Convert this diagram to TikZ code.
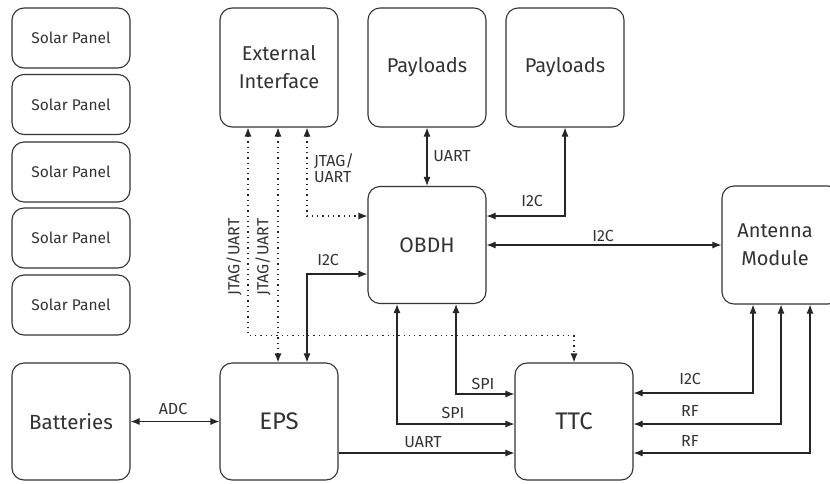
\documentclass[tikz,border=0pt]{standalone}
\usepackage{fontspec}
\setmainfont{Fira Sans}
\usetikzlibrary{arrows.meta}
\begin{document}
\begin{tikzpicture}[x=1pt,y=-1pt,
  box/.style={draw=black!80, line width=1.1pt, rounded corners=12pt, minimum width=118pt, inner sep=2pt, align=center, text=black!80},
  conn/.style={line width=1.1pt, draw=black!85, {Latex[length=9pt,width=7pt]}-{Latex[length=9pt,width=7pt]}},
  conn1/.style={line width=1.1pt, draw=black!85, -{Latex[length=9pt,width=7pt]}},
  dotconn/.style={conn, dash pattern=on 1.3pt off 4pt},
  lbl/.style={font=\fontsize{16}{17}\selectfont, text=black!80, inner sep=0pt}]
\path[use as bounding box] (0,0) rectangle (830,483);
\clip (0,0) rectangle (830,483);
% solar panels
\foreach \n/\y in {1/38,2/104.5,3/172,4/238,5/305}
  \node[box, minimum height=60pt, font=\fontsize{15.5}{17}\selectfont] (sp\n) at (71,\y) {Solar Panel};
\node[box, minimum height=117pt, font=\fontsize{20.5}{24}\selectfont] (bat) at (71,421.5) {Batteries};
\node[box, minimum height=117pt, font=\fontsize{24}{28}\selectfont] (eps) at (279,421.5) {EPS};
\node[box, minimum height=119pt, font=\fontsize{20}{28}\selectfont] (ext) at (279,67.5) {External\\Interface};
\node[box, minimum height=119pt, font=\fontsize{20}{24}\selectfont] (pay1) at (427,67.5) {\raisebox{3pt}{Payloads}};
\node[box, minimum height=119pt, font=\fontsize{20}{24}\selectfont] (pay2) at (565,67.5) {\raisebox{3pt}{Payloads}};
\node[box, minimum height=117pt, font=\fontsize{21}{24}\selectfont] (obdh) at (427,245) {OBDH};
\node[box, minimum height=117pt, font=\fontsize{24}{28}\selectfont] (ttc) at (574,421.5) {TTC};
\node[box, minimum height=118pt, font=\fontsize{20}{28}\selectfont] (ant) at (781,245) {\hspace*{-12pt}Antenna\\\hspace*{-12pt}Module};
% dotted JTAG/UART
\draw[dotconn] ([xshift=-31pt]ext.south) -- ++(0,208) -| (ttc.north);
\draw[dotconn] ([xshift=-1pt]ext.south) -- ([xshift=-1pt]eps.north);
\draw[dotconn] ([xshift=28pt]ext.south) |- ([yshift=29pt]obdh.west);
% I2C EPS-OBDH
\draw[conn] ([xshift=28pt]eps.north) |- ([yshift=-29pt]obdh.west);
% payloads
\draw[conn] (pay1.south) -- (obdh.north);
\draw[conn] (pay2.south) |- ([yshift=29pt]obdh.east);
\draw[conn] (obdh.east) -- (ant.west);
% SPI
\draw[conn] ([xshift=-30pt]obdh.south) |- ([yshift=-2.5pt]ttc.west);
\draw[conn] ([xshift=29pt]obdh.south) |- ([yshift=27.5pt]ttc.west);
% UART EPS-TTC
\draw[conn1] ([yshift=-31.5pt]eps.east) -- ([yshift=-31.5pt]ttc.west);
% antenna - TTC
\draw[conn] ([xshift=-28pt]ant.south) |- ([yshift=28.5pt]ttc.east);
\draw[conn] (ant.south) |- ([yshift=-2.5pt]ttc.east);
\draw[conn] ([xshift=29pt]ant.south) |- ([yshift=-31.5pt]ttc.east);
% ADC
\draw[conn] (bat.east) -- (eps.west);
% labels
\node[lbl, rotate=90] (l1) at (234,257) {JTAG/UART};
\node[lbl, rotate=90] (l2) at (263,257) {JTAG/UART};
\node[lbl, align=left, font=\fontsize{16}{15.5}\selectfont] (l3) at (334,168) {JTAG/\\UART};
\node[lbl] (l4) at (328,260) {I2C};
\node[lbl] (l5) at (452,156) {UART};
\node[lbl] (l6) at (532,201) {I2C};
\node[lbl] (l7) at (603,236) {I2C};
\node[lbl] (l8) at (483,384) {SPI};
\node[lbl] (l9) at (453,413) {SPI};
\node[lbl] (l10) at (423,442) {UART};
\node[lbl] (l11) at (690,379) {I2C};
\node[lbl] (l12) at (690,411) {RF};
\node[lbl] (l13) at (690,441) {RF};
\node[lbl] (l14) at (173,409) {ADC};
\end{tikzpicture}
\end{document}
